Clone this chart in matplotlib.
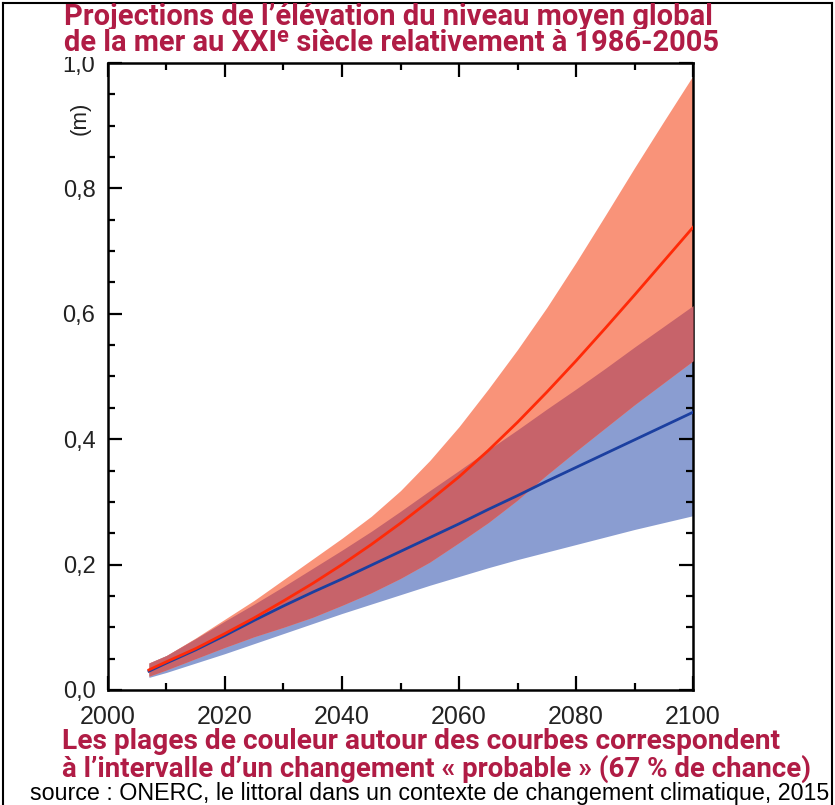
import matplotlib
matplotlib.use("Agg")
import matplotlib.pyplot as plt
from matplotlib.ticker import MultipleLocator, FuncFormatter
from matplotlib.lines import Line2D
import numpy as np

# --- data (sea-level rise, m) ---
years = [2007, 2010, 2015, 2020, 2025, 2030, 2035, 2040, 2045, 2050,
         2055, 2060, 2065, 2070, 2075, 2080, 2085, 2090, 2095, 2100]

rcp85_mean = [0.032, 0.045, 0.066, 0.090, 0.115, 0.142, 0.170, 0.200, 0.232, 0.266,
              0.302, 0.340, 0.382, 0.427, 0.475, 0.525, 0.577, 0.630, 0.684, 0.738]
rcp85_high = [0.043, 0.055, 0.083, 0.113, 0.143, 0.176, 0.209, 0.242, 0.277, 0.318,
              0.366, 0.420, 0.480, 0.543, 0.610, 0.682, 0.757, 0.833, 0.907, 0.980]
rcp85_low  = [0.022, 0.032, 0.050, 0.068, 0.085, 0.100, 0.116, 0.135, 0.155, 0.178,
              0.204, 0.235, 0.267, 0.303, 0.343, 0.381, 0.418, 0.455, 0.490, 0.525]

rcp26_mean = [0.030, 0.043, 0.064, 0.087, 0.111, 0.134, 0.156, 0.177, 0.199, 0.221,
              0.243, 0.265, 0.288, 0.310, 0.333, 0.355, 0.377, 0.399, 0.421, 0.443]
rcp26_high = [0.043, 0.055, 0.082, 0.110, 0.137, 0.165, 0.194, 0.223, 0.253, 0.285,
              0.318, 0.350, 0.383, 0.415, 0.448, 0.480, 0.513, 0.547, 0.580, 0.613]
rcp26_low  = [0.020, 0.028, 0.043, 0.058, 0.074, 0.090, 0.106, 0.122, 0.137, 0.152,
              0.167, 0.181, 0.195, 0.208, 0.220, 0.232, 0.244, 0.256, 0.267, 0.278]

xticks = [2000, 2020, 2040, 2060, 2080, 2100]

# --- colours ---
C_TITLE   = "#B01C45"
C_RED_BND = "#F99379"
C_BLU_BND = "#8A9DD1"
C_OVERLAP = "#C7636A"
C_RED_LN  = "#FF2A08"
C_BLU_LN  = "#1B3FA0"

plt.rcParams["font.family"] = ["Liberation Sans", "DejaVu Sans"]
TITLE_FONT = ["Roboto", "DejaVu Sans"]

fig = plt.figure(figsize=(8.35, 8.05), dpi=100)
fig.patch.set_facecolor("white")

ax = fig.add_axes([0.1293, 0.1429, 0.8300 - 0.1293, 0.9217 - 0.1429])

x = np.array(years)
r_lo, r_hi = np.array(rcp85_low), np.array(rcp85_high)
b_lo, b_hi = np.array(rcp26_low), np.array(rcp26_high)

ax.fill_between(x, b_lo, b_hi, color=C_BLU_BND, lw=0, zorder=1)
ax.fill_between(x, r_lo, r_hi, color=C_RED_BND, lw=0, zorder=2)
# overlap of the two likely ranges
ov_lo = np.maximum(r_lo, b_lo)
ov_hi = np.minimum(r_hi, b_hi)
ax.fill_between(x, ov_lo, ov_hi, where=ov_hi > ov_lo, color=C_OVERLAP,
                lw=0, zorder=3, interpolate=True)

ax.plot(x, rcp26_mean, color=C_BLU_LN, lw=2.0, zorder=4)
ax.plot(x, rcp85_mean, color=C_RED_LN, lw=2.0, zorder=5)

ax.set_xlim(2000, 2100)
ax.set_ylim(0, 1.0)
ax.set_xticks(xticks)
ax.xaxis.set_minor_locator(MultipleLocator(10))
ax.yaxis.set_major_locator(MultipleLocator(0.2))
ax.yaxis.set_minor_locator(MultipleLocator(0.05))
ax.yaxis.set_major_formatter(FuncFormatter(lambda v, p: f"{v:.1f}".replace(".", ",")))

ax.tick_params(which="both", direction="in", top=True, right=True, width=1.6,
               color="black")
ax.tick_params(which="major", length=10)
ax.tick_params(which="minor", length=5)
ax.tick_params(axis="y", labelsize=17, labelcolor="#222222", pad=9)
ax.tick_params(axis="x", labelsize=18, labelcolor="#222222", pad=11)
for sp in ax.spines.values():
    sp.set_linewidth(1.8)

fig.text(0.096, 0.853, "(m)", rotation=90, ha="center", va="center",
         fontsize=16, color="#222222")

# --- texts, each squeezed to the width it has in the reference ---
renderer = fig.canvas.get_renderer()


def fitted(xc, yc, s, width_px, **kw):
    t = fig.text(xc, yc, s, ha="center", va="center", **kw)
    w = t.get_window_extent(renderer).width
    t.set_fontsize(t.get_fontsize() * width_px / w)
    return t


fitted(388 / 835, 0.979, "Projections de l\u2019élévation du niveau moyen global",
       647, fontsize=20, fontweight="bold", color=C_TITLE, family=TITLE_FONT)
t2 = fitted(391 / 835, 0.946, "de la mer au XXIᵉ siècle relativement à 1986-2005",
            653, fontsize=20, fontweight="bold", color=C_TITLE, family=TITLE_FONT,
            zorder=10)
t2.set_bbox(dict(facecolor="white", edgecolor="none", pad=0))

fitted(421 / 835, 0.0795, "Les plages de couleur autour des courbes correspondent",
       718, fontsize=17, fontweight="bold", color=C_TITLE, family=TITLE_FONT)
fitted(436 / 835, 0.0447,
       "à l\u2019intervalle d\u2019un changement « probable » (67 % de chance)",
       748, fontsize=17, fontweight="bold", color=C_TITLE, family=TITLE_FONT)
fitted(430 / 835, 0.014,
       "source : ONERC, le littoral dans un contexte de changement climatique, 2015",
       800, fontsize=15, color="black")

# --- outer frame ---
for xs, ys in [([0.003, 0.003], [0.0, 0.996]),
               ([0.003, 0.997], [0.996, 0.996]),
               ([0.997, 0.997], [0.0, 0.996])]:
    fig.add_artist(Line2D(xs, ys, transform=fig.transFigure, color="black", lw=1.5))

fig.savefig("out.png", dpi=100, facecolor="white")
